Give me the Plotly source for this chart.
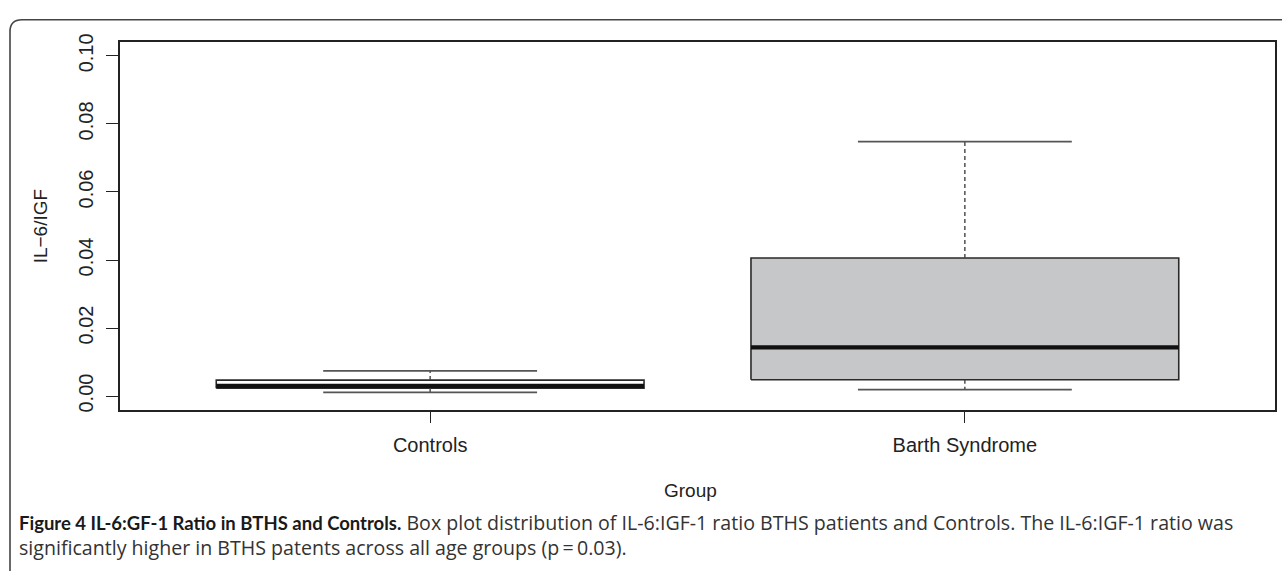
import plotly.graph_objects as go

W, H = 1282, 571

# ---- data ----
groups = ["Controls", "Barth Syndrome"]
positions = [1, 2]
lower_whisker = [0.0011, 0.0019]
q1 = [0.0023, 0.0048]
median = [0.0030, 0.0143]
q3 = [0.0047, 0.0406]
upper_whisker = [0.0074, 0.0748]
box_fill = ["#ffffff", "#c6c7c8"]
y_ticks = [0.00, 0.02, 0.04, 0.06, 0.08, 0.10]

BOXW = 0.4   # half box width (R boxwex 0.8)
CAPW = 0.2   # half staple width

fig = go.Figure()
line_col = "#2a2a2a"
for i, g in enumerate(groups):
    p = positions[i]
    fig.add_trace(go.Scatter(
        x=[p - BOXW, p + BOXW, p + BOXW, p - BOXW, p - BOXW],
        y=[q1[i], q1[i], q3[i], q3[i], q1[i]],
        mode="lines", fill="toself", fillcolor=box_fill[i],
        line=dict(color=line_col, width=1.6), hoverinfo="skip", showlegend=False))
    fig.add_trace(go.Scatter(
        x=[p, p, None, p, p], y=[q3[i], upper_whisker[i], None, q1[i], lower_whisker[i]],
        mode="lines", line=dict(color="#444444", width=1.4, dash="4px,3px"),
        hoverinfo="skip", showlegend=False))
    fig.add_trace(go.Scatter(
        x=[p - CAPW, p + CAPW, None, p - CAPW, p + CAPW],
        y=[upper_whisker[i], upper_whisker[i], None, lower_whisker[i], lower_whisker[i]],
        mode="lines", line=dict(color="#555555", width=1.6),
        hoverinfo="skip", showlegend=False))
    fig.add_trace(go.Scatter(
        x=[p - BOXW, p + BOXW], y=[median[i], median[i]],
        mode="lines", line=dict(color="#111111", width=4.2),
        hoverinfo="skip", showlegend=False))

x0, x1 = 120, 1275
yt, yb = 34, 409.3
font_main = "Liberation Sans, Arial, sans-serif"

fig.update_layout(
    width=W, height=H,
    margin=dict(l=0, r=0, t=0, b=0),
    paper_bgcolor="white", plot_bgcolor="white",
    font=dict(family=font_main, size=20, color="#222222"),
    xaxis=dict(domain=[x0 / W, x1 / W], range=[0.42, 2.58],
               tickvals=positions, ticktext=groups,
               ticks="outside", ticklen=12, tickwidth=1.3, tickcolor="#222",
               showline=True, mirror=True, linecolor="#222", linewidth=1.5,
               showgrid=False, zeroline=False, ticklabelstandoff=5,
               tickfont=dict(size=20, family=font_main, color="#222")),
    yaxis=dict(domain=[1 - yb / H, 1 - yt / H], range=[-0.004, 0.104],
               tickvals=y_ticks, tickformat=".2f", tickangle=-90,
               ticks="outside", ticklen=12, tickwidth=1.3, tickcolor="#222",
               showline=True, mirror=True, linecolor="#222", linewidth=1.5,
               showgrid=False, zeroline=False, ticklabelstandoff=5,
               tickfont=dict(size=20, family=font_main, color="#222")),
)

fig.add_annotation(text="Group", x=690 / W, y=1 - 492 / H, xref="paper", yref="paper",
                   showarrow=False, font=dict(size=19, family=font_main, color="#222"),
                   xanchor="center", yanchor="middle")
fig.add_annotation(text="IL\u22126/IGF", x=40 / W, y=1 - 222 / H, xref="paper", yref="paper",
                   showarrow=False, textangle=-90, font=dict(size=19, family=font_main, color="#222"),
                   xanchor="center", yanchor="middle")

caption = ("<span style=\"font-family:Lato;font-size:18.5px;color:#1a1a1a\">"
           "<b>Figure 4 IL-6:GF-1 Ratio in BTHS and Controls.</b></span> Box plot distribution of "
           "IL-6:IGF-1 ratio BTHS patients and Controls. The IL-6:IGF-1 ratio was<br>"
           "significantly higher in BTHS patents across all age groups (p\u2009=\u20090.03).")
fig.add_annotation(text=caption, x=17 / W, y=1 - 508.5 / H, xref="paper", yref="paper",
                   showarrow=False, align="left", xanchor="left", yanchor="top",
                   font=dict(size=19.6, family="Open Sans, sans-serif", color="#333333"))

def px(x, y):
    return f"{x / W:.5f},{1 - y / H:.5f}"
r = 12
path = (f"M {px(10, 600)} L {px(10, 11 + r)} Q {px(10, 11)} {px(10 + r, 11)} L {px(1300, 11)}")
fig.add_shape(type="path", path=path, xref="paper", yref="paper",
              line=dict(color="#444444", width=1.6))

fig.write_html("out.html", config={"displayModeBar": False},
               post_script="document.body.style.margin='0';document.body.style.overflow='hidden';")
